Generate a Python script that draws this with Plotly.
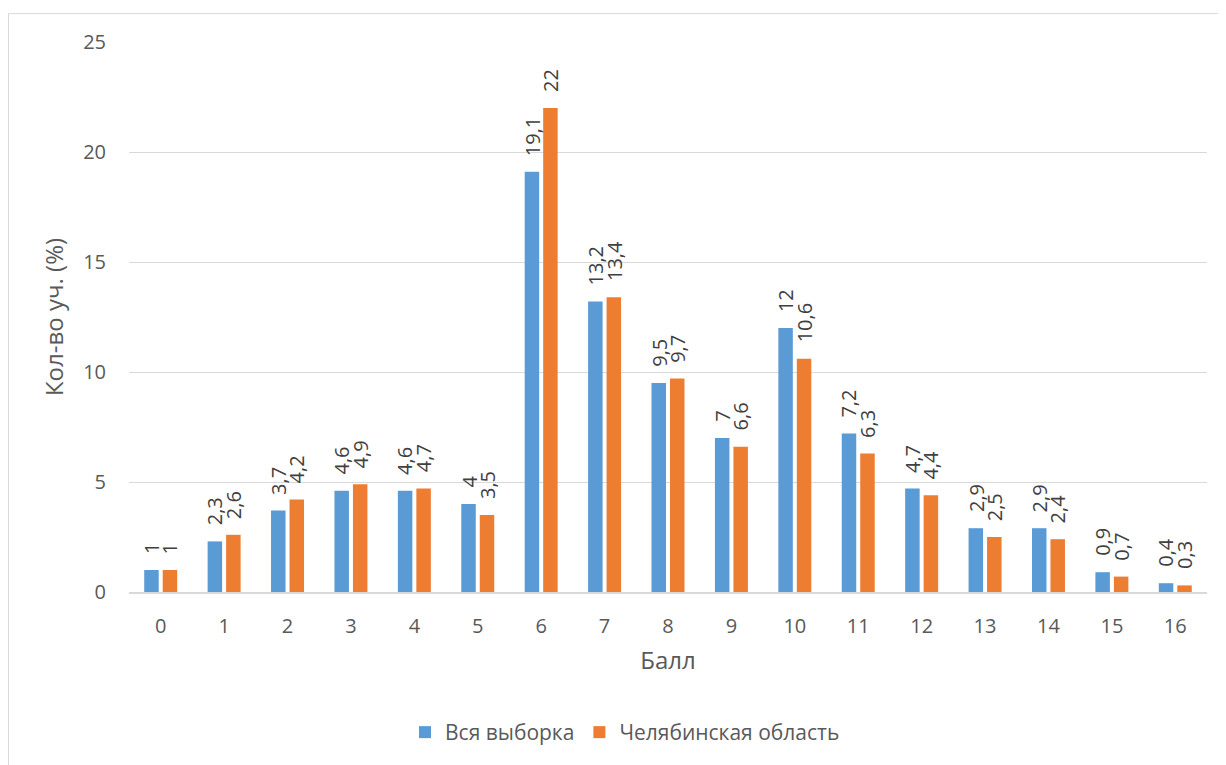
import plotly.graph_objects as go

categories = [str(i) for i in range(17)]
all_sample = [1, 2.3, 3.7, 4.6, 4.6, 4, 19.1, 13.2, 9.5, 7, 12, 7.2, 4.7, 2.9, 2.9, 0.9, 0.4]
chelyabinsk = [1, 2.6, 4.2, 4.9, 4.7, 3.5, 22, 13.4, 9.7, 6.6, 10.6, 6.3, 4.4, 2.5, 2.4, 0.7, 0.3]
series_names = ["Вся выборка", "Челябинская область"]
y_ticks = [0, 5, 10, 15, 20, 25]


def fmt(v):
    return ("%g" % v).replace(".", ",")


FONT = "Open Sans"
GREY = "#595959"
LABEL = "#404040"
COLORS = ["#5B9BD5", "#ED7D31"]

# page body has an 8px margin -> work in viewport pixels and shift
OFF = 8
W, H = 1226 - OFF, 765 - OFF
PL, PR, PT, PB = 129, 1207, 42, 594  # plot area in viewport px
L, R, T, B = PL - OFF, W - (PR - OFF), PT - OFF, H - (PB - OFF)
pw = W - L - R
ph = H - T - B


def px_x(vx):
    return (vx - OFF - L) / pw


def px_y(vy):
    return (H - B - (vy - OFF)) / ph


fig = go.Figure()
for name, vals, color in [(series_names[0], all_sample, COLORS[0]),
                          (series_names[1], chelyabinsk, COLORS[1])]:
    fig.add_trace(go.Bar(
        x=categories, y=vals, name=name,
        marker=dict(color=color, line=dict(width=0)),
    ))

annotations = []
slot = 18.5
for k, vals in enumerate([all_sample, chelyabinsk]):
    shift = (-slot / 2) if k == 0 else (slot / 2)
    for c, v in zip(categories, vals):
        annotations.append(dict(
            x=c, y=v, xref="x", yref="y", text=fmt(v), showarrow=False,
            textangle=-90, xanchor="center", yanchor="bottom",
            xshift=shift, yshift=14,
            font=dict(family=FONT, size=20, color=LABEL),
        ))

fig.update_layout(
    width=W, height=H,
    margin=dict(l=L, r=R, t=T, b=B, pad=0),
    paper_bgcolor="white", plot_bgcolor="white",
    barmode="group", bargap=0.417, bargroupgap=0.216,
    font=dict(family=FONT, size=20, color=GREY),
    showlegend=True,
    legend=dict(orientation="h", x=px_x(625), xanchor="center",
                y=px_y(735), yanchor="middle",
                font=dict(family=FONT, size=21, color=GREY),
                itemwidth=30, tracegroupgap=0),
    xaxis=dict(
        title=dict(text="Балл", font=dict(family=FONT, size=24, color=GREY), standoff=14),
        showgrid=False, showline=True, linecolor="#d9d9d9", linewidth=2,
        ticks="", ticklabelstandoff=15,
        tickfont=dict(family=FONT, size=20, color=GREY),
    ),
    yaxis=dict(
        title=dict(text="Кол-во уч. (%)", font=dict(family=FONT, size=24, color=GREY), standoff=12),
        range=[0, 25], tickvals=y_ticks,
        showgrid=True, gridcolor="#d9d9d9", gridwidth=1,
        zeroline=False, showline=False, ticks="", ticklabelstandoff=22,
        tickfont=dict(family=FONT, size=20, color=GREY),
    ),
    annotations=annotations,
    shapes=[
        dict(type="rect", xref="paper", yref="paper",
             x0=px_x(8.5), x1=px_x(1400), y0=px_y(1000), y1=px_y(13.5),
             line=dict(color="#d9d9d9", width=1), fillcolor="rgba(0,0,0,0)",
             layer="below"),
    ],
)

fig.write_html("out.html")
